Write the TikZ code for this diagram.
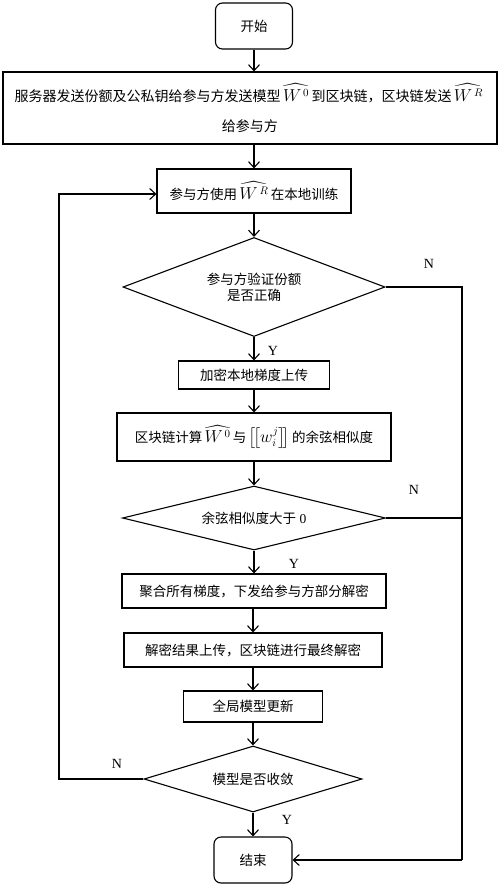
\documentclass[tikz,border=0pt]{standalone}
\usepackage{amsmath}
\usepackage{fontspec}
\setmainfont{Noto Sans CJK SC}
\newfontfamily\lat{Liberation Serif}
\usetikzlibrary{shapes.geometric,arrows.meta}
\newcommand{\hatW}[1]{\,{\fontsize{16}{18}\selectfont$\widehat{W^{\,#1}}$}\,}
\begin{document}
\begin{tikzpicture}[x=1pt,y=-1pt,
  every node/.style={font=\fontsize{13.5}{16}\selectfont},
  box/.style={draw,line width=1.1pt,inner sep=0pt,align=center},
  rbox/.style={box,rounded corners=7pt},
  dia/.style={draw,line width=1.1pt,diamond,inner sep=0pt,aspect=2.5,align=center},
  lab/.style={font=\lat\fontsize{14}{16}\selectfont},
  arr/.style={line width=1.1pt,-{Straight Barb[length=6pt,width=11pt,line width=1.1pt]}},
  ln/.style={line width=1.1pt}]
\useasboundingbox (0,0) rectangle (500,887);
\node[rbox,minimum width=77pt,minimum height=46pt] (start) at (254,26) {开始};
\node[box,minimum width=494pt,minimum height=72pt,font=\fontsize{14}{30}\selectfont] (main) at (250,108)
  {服务器发送份额及公私钥给参与方发送模型\hatW{0}到区块链，区块链发送\hatW{R}\\给参与方};
\node[box,minimum width=194pt,minimum height=44pt] (train) at (254,191) {参与方使用\hatW{R}在本地训练};
\node[dia,minimum width=262pt,minimum height=99pt] (d1) at (254,287) {参与方验证份额\\是否正确};
\node[box,minimum width=151pt,minimum height=28pt] (enc) at (254,375) {加密本地梯度上传};
\node[box,minimum width=274pt,minimum height=48pt] (cos) at (254,437)
  {区块链计算\hatW{0}与\,{\fontsize{16}{18}\selectfont$\left[\!\left[w_i^j\right]\!\right]$}\,的余弦相似度};
\node[dia,minimum width=263pt,minimum height=64pt] (d2) at (254,518) {余弦相似度大于{\lat\ 0}};
\node[box,minimum width=264pt,minimum height=34pt] (agg) at (254,591) {聚合所有梯度，下发给参与方部分解密};
\node[box,minimum width=258pt,minimum height=34pt] (dec) at (253,650) {解密结果上传，区块链进行最终解密};
\node[box,minimum width=139pt,minimum height=31pt] (upd) at (253,706.5) {全局模型更新};
\node[dia,minimum width=218pt,minimum height=66pt] (d3) at (253,779) {模型是否收敛};
\node[rbox,minimum width=78pt,minimum height=46pt] (end) at (253,860) {结束};
\node[lab] (y1) at (273,351) {Y};
\node[lab] (n1) at (429,264) {N};
\node[lab] (y2) at (294,564) {Y};
\node[lab] (n2) at (414,490) {N};
\node[lab] (y3) at (287,820) {Y};
\node[lab] (n3) at (117,764) {N};
\coordinate (lt) at (59,194);
\coordinate (lb) at (59,779);
\coordinate (rt) at (462,287);
\coordinate (rm) at (462,518);
\coordinate (rb) at (462,860);
\draw[arr] (start.south) -- (start.south |- main.north);
\draw[arr] (train.north |- main.south) -- (train.north);
\draw[arr] (train.south) -- (d1.north);
\draw[arr] (d1.south) -- (enc.north);
\draw[arr] (enc.south) -- (cos.north);
\draw[arr] (cos.south) -- (d2.north);
\draw[arr] (d2.south) -- (agg.north);
\draw[arr] (dec.north |- agg.south) -- (dec.north);
\draw[arr] (dec.south) -- (upd.north);
\draw[arr] (upd.south) -- (d3.north);
\draw[arr] (d3.south) -- (end.north);
\draw[arr] (d3.west) -- (lb) -- (lt) -- (train.west |- lt);
\draw[ln] (d1.east) -- (rt) -- (rb);
\draw[arr] (rb) -- (end.east |- rb);
\draw[ln] (d2.east) -- (rm);
\end{tikzpicture}
\end{document}
